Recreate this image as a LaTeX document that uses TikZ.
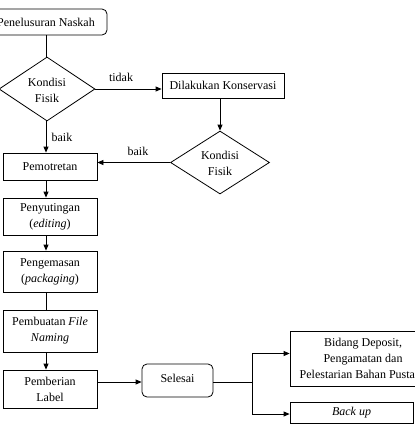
\documentclass[tikz,border=0pt]{standalone}
\usepackage{fontspec}
\setmainfont{Liberation Serif}
\usetikzlibrary{shapes.geometric,arrows.meta,calc}
\begin{document}
\begin{tikzpicture}[x=1pt,y=-1pt,
  every node/.style={font=\fontsize{12}{16}\selectfont, inner sep=0pt, align=center},
  box/.style={draw, line width=0.8pt, minimum width=#1},
  rbox/.style={draw, line width=0.8pt, rounded corners=5pt},
  dia/.style={draw, line width=0.8pt, diamond, aspect=1.5},
  ln/.style={line width=0.8pt},
  arr/.style={line width=0.8pt, -{Triangle[length=6pt,width=5pt]}},
  lbl/.style={font=\fontsize{12}{14}\selectfont}
]
\useasboundingbox (0,0) rectangle (415,426);
\clip (0,0) rectangle (415,426);

\node[rbox, minimum width=122pt, minimum height=26pt] (n1) at (46,22) {Penelusuran Naskah};
\node[draw, line width=0.8pt, shape=diamond, minimum width=96pt, minimum height=64pt, inner sep=0pt] (d1) at (47,89) {};
\node at (47,90) {Kondisi\\Fisik};
\node[draw, line width=0.8pt, minimum width=122pt, minimum height=25pt] (n2) at (223,85.5) {Dilakukan Konservasi};
\node[draw, line width=0.8pt, shape=diamond, minimum width=99pt, minimum height=63pt, inner sep=0pt] (d2) at (220,162.5) {};
\node at (220,163.5) {Kondisi\\Fisik};

\node[draw, line width=0.8pt, minimum width=94pt, minimum height=27pt] (n3) at (50,166.5) {Pemotretan};
\node[draw, line width=0.8pt, minimum width=94pt, minimum height=37pt] (n4) at (50,216.5) {Penyutingan\\(\textit{editing})};
\node[draw, line width=0.8pt, minimum width=94pt, minimum height=41pt] (n5) at (50,271.5) {Pengemasan\\(\textit{packaging})};
\node[draw, line width=0.8pt, minimum width=94pt, minimum height=42pt] (n6) at (50,331) {Pembuatan \textit{File}\\\textit{Naming}};
\node[draw, line width=0.8pt, minimum width=94pt, minimum height=38pt] (n7) at (50,389) {Pemberian\\Label};
\node[rbox, minimum width=71pt, minimum height=33pt] (n8) at (177.5,380.5) {};
\node at (177.5,378) {Selesai};
\node[draw, line width=0.8pt, minimum width=146pt, minimum height=55pt] (n9) at (363,358.5) {Bidang Deposit,\\Pengamatan dan\\Pelestarian Bahan Pustaka};
\node[draw, line width=0.8pt, minimum width=123pt, minimum height=21pt] (n10) at (351.5,412.5) {\textit{Back up}};

\coordinate (cx) at (46,0);
\draw[ln] (n1.south -| cx) -- (d1.north -| cx);
\draw[arr] (d1.east) -- (d1.east -| n2.west);
\node[lbl] at (121,77) {tidak};
\draw[arr] (d2.north |- n2.south) -- (d2.north);
\draw[arr] (d2.west) -- (d2.west -| n3.east);
\node[lbl] at (138,151) {baik};
\draw[arr] (d1.south -| cx) -- (n3.north -| cx);
\node[lbl] at (62,137) {baik};
\draw[arr] (n3.south -| cx) -- (n4.north -| cx);
\draw[arr] (n4.south -| cx) -- (n5.north -| cx);
\draw[ln] (n5.south -| cx) -- (n6.north -| cx);
\draw[arr] (n6.south -| cx) -- (n7.north -| cx);
\coordinate (m) at (0,382);
\draw[arr] (n7.east |- m) -- (n8.west |- m);
\coordinate (j) at (252,382);
\draw[ln] (n8.east |- m) -- (j);
\draw[arr] (j) |- ($(n9.west)+(0,-5)$);
\draw[arr] (j) |- ($(n10.west)+(0,1.5)$);
\end{tikzpicture}
\end{document}
